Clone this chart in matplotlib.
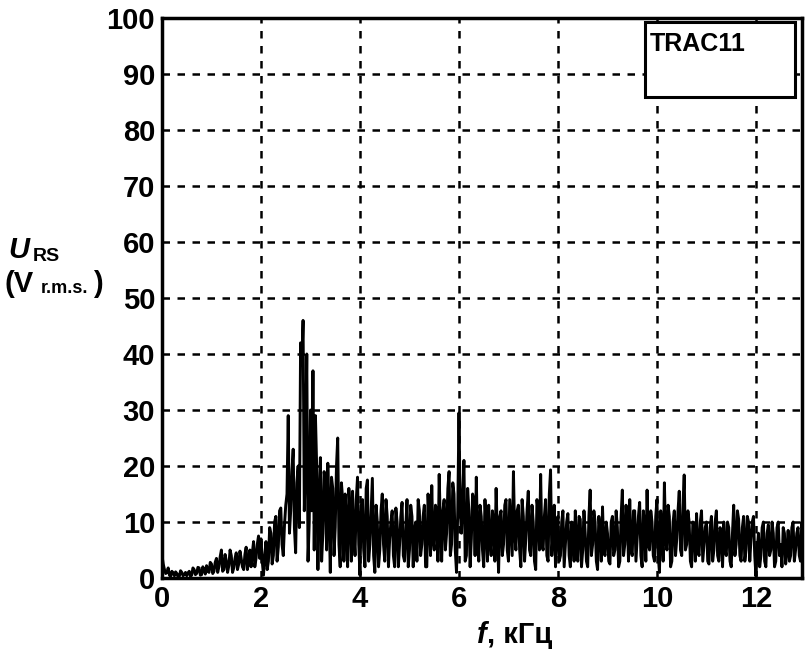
import numpy as np
import matplotlib
matplotlib.use("Agg")
import matplotlib.pyplot as plt
from matplotlib.patches import Rectangle

plt.rcParams['font.family'] = ['Liberation Sans', 'DejaVu Sans']
plt.rcParams['font.weight'] = 'bold'

# sample grid (kHz)
f_start = 0.0
f_step = 0.025

# spectrum amplitude, V r.m.s.
# values at every 0.05 kHz
u_0_1 = [4.0, 1.5, 1.0, 0.5, 1.2, 0.4, 0.8, 0.3, 1.0, 0.6,
         0.4, 1.2, 0.5, 1.5, 0.8, 1.8, 0.6, 1.4, 2.2, 1.0]
u_1_2 = [2.5, 1.2, 3.5, 2.0, 5.0, 1.5, 3.0, 2.2, 4.0, 1.8,
         4.5, 2.5, 3.5, 1.5, 5.5, 3.0, 2.0, 6.5, 3.5, 7.5]
u_2_3 = [7.0, 0.5, 6.5, 3.0, 8.0, 4.0, 11.0, 5.5, 12.5, 4.0,
         13.0, 29.0, 12.0, 23.0, 4.5, 20.0, 42.0, 46.0, 22.0, 3.0]
u_3_4 = [30.0, 37.0, 29.0, 1.5, 21.5, 8.0, 17.0, 20.5, 1.0, 16.0,
         9.0, 25.0, 2.0, 14.0, 15.0, 2.0, 12.0, 15.5, 4.0, 18.0]
u_4_5 = [0.5, 14.0, 2.0, 17.5, 6.0, 17.8, 1.0, 10.0, 5.0, 15.0,
         3.0, 11.0, 7.0, 12.0, 2.0, 10.0, 6.0, 13.5, 3.0, 14.0]
u_5_6 = [5.0, 11.0, 8.5, 3.0, 12.0, 6.0, 13.0, 2.0, 10.0, 16.5,
         5.0, 12.0, 18.5, 3.0, 14.0, 8.0, 19.0, 6.0, 15.0, 1.0]
u_6_7 = [29.5, 8.0, 21.0, 4.0, 12.0, 7.0, 14.0, 18.0, 3.0, 11.0,
         2.0, 9.0, 13.0, 4.0, 10.0, 16.0, 1.0, 12.0, 6.0, 14.0]
u_7_8 = [3.0, 9.0, 19.0, 5.0, 13.0, 2.0, 11.0, 7.0, 15.5, 4.0,
         10.0, 1.5, 12.0, 18.5, 5.0, 14.0, 3.0, 19.3, 8.0, 2.0]
u_8_9 = [11.0, 4.0, 12.0, 6.0, 11.5, 2.0, 9.0, 12.0, 3.0, 10.5,
         5.0, 8.0, 2.0, 15.7, 6.0, 10.0, 1.5, 9.0, 12.7, 4.0]
u_9_10 = [8.0, 2.5, 11.0, 5.0, 9.0, 3.0, 15.7, 6.0, 10.0, 14.0,
          4.0, 12.0, 7.0, 13.5, 2.0, 9.0, 15.7, 5.0, 10.0, 3.0]
u_10_11 = [14.0, 1.0, 9.0, 17.0, 5.0, 11.0, 3.0, 12.0, 7.0, 15.5,
           4.0, 18.4, 6.0, 10.0, 2.0, 9.0, 11.5, 4.0, 12.0, 6.0]
u_11_12 = [10.0, 2.5, 11.0, 5.0, 12.0, 3.0, 8.0, 10.0, 4.0, 9.0,
           2.0, 13.0, 6.0, 10.5, 3.0, 11.0, 5.0, 10.0, 7.0, 11.0]
u_12_13 = [0.3, 8.0, 4.0, 10.0, 2.0, 9.5, 5.0, 8.0, 3.0, 10.0,
           6.0, 9.0, 2.5, 8.5, 4.0, 10.0, 5.0, 9.0, 3.0, 8.0]

# values half-way between them (0.025 kHz later)
m_0_1 = [2.5, 0.8, 1.8, 0.3, 0.9, 1.1, 0.2, 1.3, 0.4, 1.0,
         0.9, 0.3, 1.8, 0.6, 1.9, 0.5, 2.0, 0.7, 1.2, 2.8]
m_1_2 = [0.8, 2.8, 1.0, 3.8, 1.2, 4.2, 1.0, 5.0, 1.0, 3.5,
         1.5, 4.8, 2.0, 4.2, 1.5, 5.0, 4.5, 2.0, 6.0, 3.5]
m_2_3 = [3.0, 4.0, 1.5, 9.0, 2.5, 10.0, 3.0, 12.0, 6.0, 9.5,
         15.0, 8.0, 19.0, 9.0, 17.0, 9.0, 38.0, 12.0, 40.0, 10.0]
m_3_4 = [12.0, 5.0, 20.0, 14.0, 3.0, 19.0, 5.0, 12.0, 18.0, 4.0,
         20.0, 6.0, 17.0, 3.0, 10.0, 16.0, 3.0, 8.0, 14.0, 6.0]
m_4_5 = [13.0, 5.0, 16.0, 3.0, 12.0, 4.0, 13.0, 2.0, 12.0, 6.0,
         14.0, 2.0, 10.0, 4.0, 12.5, 2.0, 11.0, 4.0, 9.0, 2.0]
m_5_6 = [13.0, 2.0, 10.0, 14.0, 4.0, 11.0, 2.0, 15.0, 4.0, 7.0,
         13.0, 3.0, 9.0, 12.0, 5.0, 16.0, 4.0, 17.0, 5.0, 12.0]
m_6_7 = [12.0, 15.0, 3.0, 16.0, 2.0, 15.0, 4.0, 6.0, 13.0, 5.0,
         14.0, 3.0, 7.0, 12.0, 3.0, 8.0, 11.0, 4.0, 13.0, 5.0]
m_7_8 = [14.0, 4.0, 8.0, 12.0, 5.0, 14.0, 3.0, 12.0, 5.0, 13.0,
         3.0, 14.0, 5.0, 6.0, 11.0, 4.0, 15.0, 4.0, 13.0, 9.0]
m_8_9 = [3.0, 10.0, 2.0, 10.0, 4.0, 10.0, 3.0, 6.0, 11.0, 2.0,
         12.0, 3.0, 11.0, 4.0, 12.0, 3.0, 11.0, 3.0, 5.0, 10.0]
m_9_10 = [3.0, 10.0, 4.0, 12.0, 2.0, 11.0, 4.0, 13.0, 3.0, 5.0,
          12.0, 3.0, 11.0, 4.0, 12.0, 3.0, 6.0, 12.0, 4.0, 11.0]
m_10_11 = [4.0, 12.0, 3.0, 7.0, 13.0, 2.0, 10.0, 4.0, 12.0, 5.0,
           13.0, 5.0, 12.0, 3.0, 10.0, 3.0, 5.0, 10.0, 3.0, 9.0]
m_11_12 = [3.0, 9.0, 3.0, 10.0, 4.0, 9.0, 2.0, 5.0, 10.0, 3.0,
           8.0, 4.0, 12.0, 4.0, 9.0, 3.0, 11.0, 3.0, 10.0, 4.0]
m_12_13 = [5.0, 2.0, 9.0, 3.0, 8.0, 4.0, 10.0, 2.0, 9.0, 4.0,
           2.0, 8.0, 5.0, 3.0, 9.0, 3.0, 8.0, 4.0, 10.0, 5.0]

u_main = (u_0_1 + u_1_2 + u_2_3 + u_3_4 + u_4_5 + u_5_6 + u_6_7 + u_7_8 +
          u_8_9 + u_9_10 + u_10_11 + u_11_12 + u_12_13)
u_mid = (m_0_1 + m_1_2 + m_2_3 + m_3_4 + m_4_5 + m_5_6 + m_6_7 + m_7_8 +
         m_8_9 + m_9_10 + m_10_11 + m_11_12 + m_12_13)
u_rs = np.empty(len(u_main) + len(u_mid))
u_rs[0::2] = u_main
u_rs[1::2] = u_mid
freq = f_start + f_step * np.arange(len(u_rs))

x_ticks = [0, 2, 4, 6, 8, 10, 12]
y_ticks = [0, 10, 20, 30, 40, 50, 60, 70, 80, 90, 100]
legend_label = "TRAC11"

W, H = 808, 659
fig = plt.figure(figsize=(W / 100, H / 100), dpi=100)
L, R, T, B = 162, 802, 18, 578
ax = fig.add_axes([L / W, 1 - B / H, (R - L) / W, (B - T) / H])

ax.plot(freq, u_rs, color='black', lw=2.1)
ax.set_xlim(0, 12.93)
ax.set_ylim(0, 100)
ax.set_xticks(x_ticks)
ax.set_yticks(y_ticks)
ax.grid(True, color='black', linestyle=(0, (3, 3)), linewidth=1.8)
ax.tick_params(length=0, labelsize=21, pad=5)
for lab in ax.get_xticklabels() + ax.get_yticklabels():
    lab.set_fontweight('bold')
for s in ax.spines.values():
    s.set_linewidth(2.5)
    s.set_color('black')

# legend box
fig.add_artist(Rectangle((645 / W, 1 - 97 / H), 150 / W, 75 / H,
                         transform=fig.transFigure, facecolor='white',
                         edgecolor='black', linewidth=2.2, zorder=5))
fig.text(650 / W, 1 - 51 / H, legend_label, fontsize=18, fontweight='bold',
         ha='left', va='baseline', zorder=6)

# y label
fig.text(8 / W, 1 - 258 / H, "U", fontsize=21, fontweight='bold',
         fontstyle='italic', ha='left', va='baseline')
fig.text(33 / W, 1 - 261 / H, "RS", fontsize=14, fontweight='bold',
         ha='left', va='baseline')
fig.text(5 / W, 1 - 292 / H, "(V", fontsize=21, fontweight='bold',
         ha='left', va='baseline')
fig.text(41 / W, 1 - 293 / H, "r.m.s.", fontsize=13, fontweight='bold',
         ha='left', va='baseline')
fig.text(93 / W, 1 - 292 / H, ")", fontsize=21, fontweight='bold',
         ha='left', va='baseline')

# x label
fig.text(477 / W, 1 - 643 / H, "f", fontsize=21, fontweight='bold',
         fontstyle='italic', ha='left', va='baseline')
fig.text(487 / W, 1 - 643 / H, ", кГц", fontsize=21, fontweight='bold',
         ha='left', va='baseline')

fig.savefig("out.png", dpi=100)
